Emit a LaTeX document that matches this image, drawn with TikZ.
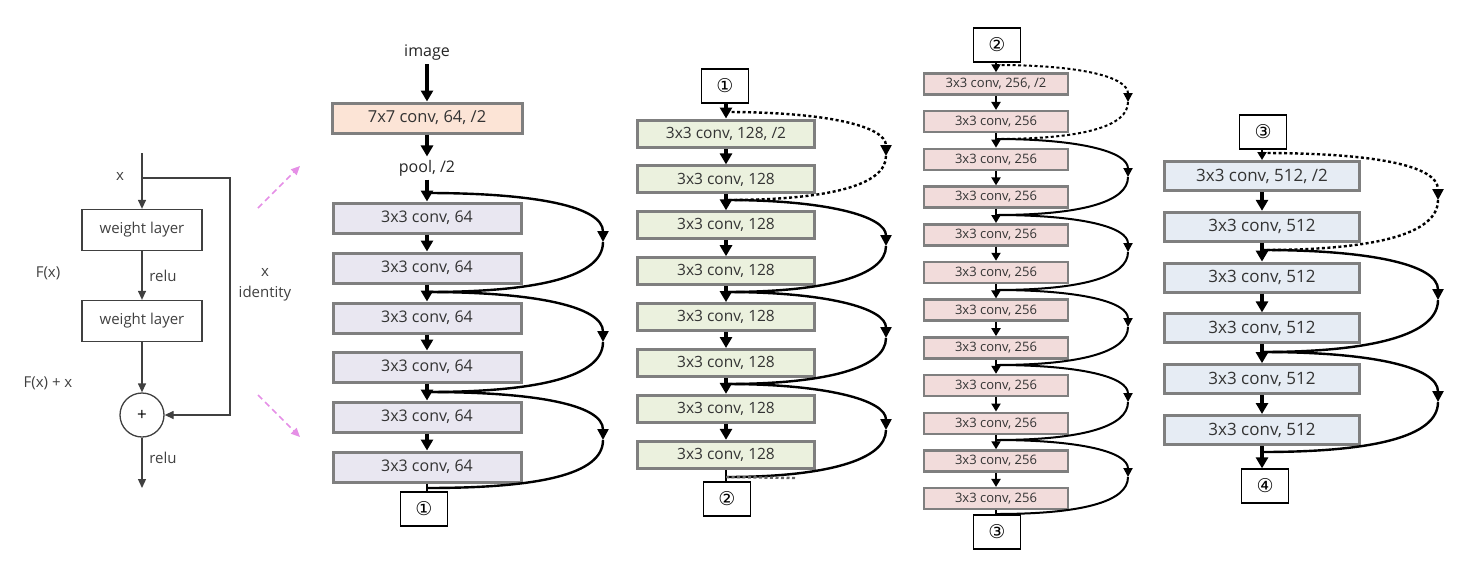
\documentclass[tikz,border=0pt]{standalone}
\usepackage{fontspec}
\setmainfont{Open Sans}
\newfontfamily\circfont{DejaVu Sans}
\usetikzlibrary{arrows.meta}
\definecolor{peach}{HTML}{FCE4D6}
\definecolor{lilac}{HTML}{E9E7F1}
\definecolor{sage}{HTML}{EBF1DE}
\definecolor{rose}{HTML}{F2DCDB}
\definecolor{ice}{HTML}{E6ECF4}
\definecolor{frame}{HTML}{7F7F7F}
\definecolor{orchid}{HTML}{E58FE6}
\tikzset{
  conv/.style  = {rectangle, draw=frame, line width=3pt, text=black!80, inner sep=0},
  conva/.style = {conv, fill=lilac, minimum width=188pt, minimum height=30pt, font=\fontsize{16}{18}\selectfont},
  convb/.style = {conv, fill=sage, minimum width=177pt, minimum height=27pt, font=\fontsize{15.5}{18}\selectfont},
  convc/.style = {conv, fill=rose, line width=2.5pt, minimum width=144pt, minimum height=21pt, font=\fontsize{13}{15}\selectfont},
  convd/.style = {conv, fill=ice, minimum width=195pt, minimum height=29pt, font=\fontsize{17}{19}\selectfont},
  num/.style   = {rectangle, draw, line width=1.3pt, fill=white, minimum width=47pt, minimum height=34pt, font=\circfont\fontsize{19}{19}\selectfont},
  wbox/.style  = {rectangle, draw=black!75, line width=1.3pt, minimum width=120pt, minimum height=41pt, font=\fontsize{15}{17}\selectfont, text=black!75},
  plus/.style  = {circle, draw=black!75, line width=1.3pt, minimum size=44pt, font=\fontsize{17}{17}\selectfont},
  lbl/.style   = {font=\fontsize{15}{17}\selectfont, text=black!75},
  big/.style   = {font=\fontsize{16}{18}\selectfont, text=black!85},
  flow/.style  = {line width=3.2pt, -{Triangle[length=11pt,width=12pt]}},
  flowc/.style = {line width=2.4pt, -{Triangle[length=8pt,width=9pt]}},
  stem/.style  = {line width=2.4pt},
  cut/.style   = {line width=2.4pt, -{Triangle[length=11pt,width=11pt]}},
  cutc/.style  = {line width=2pt, -{Triangle[length=9pt,width=9pt]}},
  dots/.style  = {dash pattern=on 3pt off 2.5pt},
  gflow/.style = {draw=black!75, line width=1.3pt, -{Triangle[length=9pt,width=8pt]}},
  pinkarr/.style = {draw=orchid, line width=1.5pt, dash pattern=on 6pt off 4pt, -{Triangle[length=9pt,width=8pt]}}
}
\begin{document}
\begin{tikzpicture}[x=1pt,y=-1pt]
  \useasboundingbox (0,0) rectangle (1474,571);

  % residual block
  \coordinate (xin) at (142,153); \coordinate (sk) at (142,178); \coordinate (br) at (230,178); \coordinate (xout) at (142,488);
  \node[wbox] (w1) at (142,230) {weight layer};
  \node[wbox] (w2) at (142,321) {weight layer};
  \node[plus] (add) at (142,415) {+};
  \draw[gflow] (xin) -- (w1); \draw[gflow] (w1) -- (w2); \draw[gflow] (w2) -- (add); \draw[gflow] (add) -- (xout);
  \draw[gflow] (sk) -- (br) |- (add);
  \node[lbl] at (120,176) {x}; \node[lbl] at (163,276) {relu}; \node[lbl] at (163,458) {relu};
  \node[lbl] at (48,273) {F(x)}; \node[lbl] at (48,383) {F(x) + x};
  \node[lbl] at (265,272) {x}; \node[lbl] at (265,294) {identity};
  \coordinate (pa1) at (258,208); \coordinate (pa2) at (300,166); \draw[pinkarr] (pa1) -- (pa2);
  \coordinate (pb1) at (258,395); \coordinate (pb2) at (300,437); \draw[pinkarr] (pb1) -- (pb2);

  % stage 1
  \node[big] (img) at (427,53) {image};
  \node[conv, fill=peach, minimum width=190pt, minimum height=30pt, font=\fontsize{16.5}{18}\selectfont] (b7) at (427,118) {7x7 conv, 64, /2};
  \node[big] (pool) at (427,168) {pool, /2};
  \node[conva] (a1) at (427,218) {3x3 conv, 64}; \node[conva] (a2) at (427,268) {3x3 conv, 64};
  \node[conva] (a3) at (427,318) {3x3 conv, 64}; \node[conva] (a4) at (427,367) {3x3 conv, 64};
  \node[conva] (a5) at (427,417) {3x3 conv, 64}; \node[conva] (a6) at (427,467) {3x3 conv, 64};
  \node[num] (n1a) at (424,509) {①};
  \draw[flow] (img) -- (b7); \draw[flow] (b7) -- (pool); \draw[flow] (pool) -- (a1);
  \draw[flow] (a1) -- (a2); \draw[flow] (a2) -- (a3); \draw[flow] (a3) -- (a4); \draw[flow] (a4) -- (a5); \draw[flow] (a5) -- (a6);
  \draw[stem] (a6) -- (a6 |- n1a.north);
  \coordinate (ja0) at (427,193); \coordinate (ja1) at (427,292); \coordinate (ja2) at (427,392); \coordinate (ja3) at (427,488);
  \coordinate (ra0) at (603,242); \coordinate (ra1) at (603,342); \coordinate (ra2) at (603,440);
  \draw[cut] (ja0) .. controls +(110,0) and +(0,-35) .. (ra0); \draw[stem] (ra0) .. controls +(0,35) and +(110,0) .. (ja1);
  \draw[cut] (ja1) .. controls +(110,0) and +(0,-35) .. (ra1); \draw[stem] (ra1) .. controls +(0,35) and +(110,0) .. (ja2);
  \draw[cut] (ja2) .. controls +(110,0) and +(0,-35) .. (ra2); \draw[stem] (ra2) .. controls +(0,35) and +(110,0) .. (ja3);

  % stage 2
  \node[num] (n1b) at (725,86) {①};
  \node[convb] (b1) at (726,133.5) {3x3 conv, 128, /2}; \node[convb] (b2) at (726,179.4) {3x3 conv, 128};
  \node[convb] (b3) at (726,225.3) {3x3 conv, 128}; \node[convb] (b4) at (726,271.2) {3x3 conv, 128};
  \node[convb] (b5) at (726,317.1) {3x3 conv, 128}; \node[convb] (b6) at (726,363) {3x3 conv, 128};
  \node[convb] (b7b) at (726,408.9) {3x3 conv, 128}; \node[convb] (b8) at (726,454.8) {3x3 conv, 128};
  \node[num] (n2b) at (727,499) {②};
  \draw[flow] (n1b.south -| b1) -- (b1); \draw[flow] (b1) -- (b2); \draw[flow] (b2) -- (b3); \draw[flow] (b3) -- (b4);
  \draw[flow] (b4) -- (b5); \draw[flow] (b5) -- (b6); \draw[flow] (b6) -- (b7b); \draw[flow] (b7b) -- (b8);
  \draw[stem] (b8) -- (b8 |- n2b.north);
  \coordinate (jb0) at (726,112); \coordinate (jb1) at (726,200); \coordinate (jb2) at (726,292); \coordinate (jb3) at (726,384); \coordinate (jb4) at (726,477);
  \coordinate (rb0) at (886,156); \coordinate (rb1) at (886,246); \coordinate (rb2) at (886,338); \coordinate (rb3) at (886,430);
  \coordinate (db) at (795,478);
  \draw[cut, dots] (jb0) .. controls +(100,0) and +(0,-30) .. (rb0); \draw[stem, dots] (rb0) .. controls +(0,30) and +(100,0) .. (jb1);
  \draw[cut] (jb1) .. controls +(100,0) and +(0,-30) .. (rb1); \draw[stem] (rb1) .. controls +(0,30) and +(100,0) .. (jb2);
  \draw[cut] (jb2) .. controls +(100,0) and +(0,-30) .. (rb2); \draw[stem] (rb2) .. controls +(0,30) and +(100,0) .. (jb3);
  \draw[cut] (jb3) .. controls +(100,0) and +(0,-30) .. (rb3); \draw[stem] (rb3) .. controls +(0,30) and +(100,0) .. (jb4);
  \draw[stem, dots, black!60] (jb4) -- (db);

  % stage 3
  \node[num] (n2c) at (997,45) {②};
  \node[convc] (c1) at (996,84) {3x3 conv, 256, /2}; \node[convc] (c2) at (996,121.7) {3x3 conv, 256};
  \node[convc] (c3) at (996,159.4) {3x3 conv, 256}; \node[convc] (c4) at (996,197.1) {3x3 conv, 256};
  \node[convc] (c5) at (996,234.8) {3x3 conv, 256}; \node[convc] (c6) at (996,272.5) {3x3 conv, 256};
  \node[convc] (c7) at (996,310.2) {3x3 conv, 256}; \node[convc] (c8) at (996,347.9) {3x3 conv, 256};
  \node[convc] (c9) at (996,385.6) {3x3 conv, 256}; \node[convc] (c10) at (996,423.3) {3x3 conv, 256};
  \node[convc] (c11) at (996,461) {3x3 conv, 256}; \node[convc] (c12) at (996,498.7) {3x3 conv, 256};
  \node[num] (n3c) at (997,532) {③};
  \draw[flowc] (n2c.south -| c1) -- (c1); \draw[flowc] (c1) -- (c2); \draw[flowc] (c2) -- (c3); \draw[flowc] (c3) -- (c4);
  \draw[flowc] (c4) -- (c5); \draw[flowc] (c5) -- (c6); \draw[flowc] (c6) -- (c7); \draw[flowc] (c7) -- (c8);
  \draw[flowc] (c8) -- (c9); \draw[flowc] (c9) -- (c10); \draw[flowc] (c10) -- (c11); \draw[flowc] (c11) -- (c12);
  \draw[stem, line width=2pt] (c12) -- (c12 |- n3c.north);
  \coordinate (jc0) at (996,65); \coordinate (jc1) at (996,139); \coordinate (jc2) at (996,215); \coordinate (jc3) at (996,290);
  \coordinate (jc4) at (996,365); \coordinate (jc5) at (996,440); \coordinate (jc6) at (996,514);
  \coordinate (rc0) at (1128,102); \coordinate (rc1) at (1128,177); \coordinate (rc2) at (1128,252);
  \coordinate (rc3) at (1128,327); \coordinate (rc4) at (1128,402); \coordinate (rc5) at (1128,477);
  \draw[cutc, dots] (jc0) .. controls +(85,0) and +(0,-25) .. (rc0); \draw[stem, line width=2pt, dots] (rc0) .. controls +(0,25) and +(85,0) .. (jc1);
  \draw[cutc] (jc1) .. controls +(85,0) and +(0,-25) .. (rc1); \draw[stem, line width=2pt] (rc1) .. controls +(0,25) and +(85,0) .. (jc2);
  \draw[cutc] (jc2) .. controls +(85,0) and +(0,-25) .. (rc2); \draw[stem, line width=2pt] (rc2) .. controls +(0,25) and +(85,0) .. (jc3);
  \draw[cutc] (jc3) .. controls +(85,0) and +(0,-25) .. (rc3); \draw[stem, line width=2pt] (rc3) .. controls +(0,25) and +(85,0) .. (jc4);
  \draw[cutc] (jc4) .. controls +(85,0) and +(0,-25) .. (rc4); \draw[stem, line width=2pt] (rc4) .. controls +(0,25) and +(85,0) .. (jc5);
  \draw[cutc] (jc5) .. controls +(85,0) and +(0,-25) .. (rc5); \draw[stem, line width=2pt] (rc5) .. controls +(0,25) and +(85,0) .. (jc6);

  % stage 4
  \node[num] (n3d) at (1263,132) {③};
  \node[convd] (d1) at (1262,176) {3x3 conv, 512, /2}; \node[convd] (d2) at (1262,226.8) {3x3 conv, 512};
  \node[convd] (d3) at (1262,277.6) {3x3 conv, 512}; \node[convd] (d4) at (1262,328.4) {3x3 conv, 512};
  \node[convd] (d5) at (1262,379.2) {3x3 conv, 512}; \node[convd] (d6) at (1262,430) {3x3 conv, 512};
  \node[num] (n4d) at (1265,486) {④};
  \draw[flowc] (n3d.south -| d1) -- (d1); \draw[flow] (d1) -- (d2); \draw[flow] (d2) -- (d3); \draw[flow] (d3) -- (d4);
  \draw[flow] (d4) -- (d5); \draw[flow] (d5) -- (d6); \draw[flow] (d6) -- (d6 |- n4d.north);
  \coordinate (jd0) at (1262,153); \coordinate (jd1) at (1262,250); \coordinate (jd2) at (1262,352); \coordinate (jd3) at (1262,452);
  \coordinate (rd0) at (1438,200); \coordinate (rd1) at (1438,300); \coordinate (rd2) at (1438,402);
  \draw[cut, dots] (jd0) .. controls +(110,0) and +(0,-35) .. (rd0); \draw[stem, dots] (rd0) .. controls +(0,35) and +(110,0) .. (jd1);
  \draw[cut] (jd1) .. controls +(110,0) and +(0,-35) .. (rd1); \draw[stem] (rd1) .. controls +(0,35) and +(110,0) .. (jd2);
  \draw[cut] (jd2) .. controls +(110,0) and +(0,-35) .. (rd2); \draw[stem] (rd2) .. controls +(0,35) and +(110,0) .. (jd3);
\end{tikzpicture}
\end{document}
